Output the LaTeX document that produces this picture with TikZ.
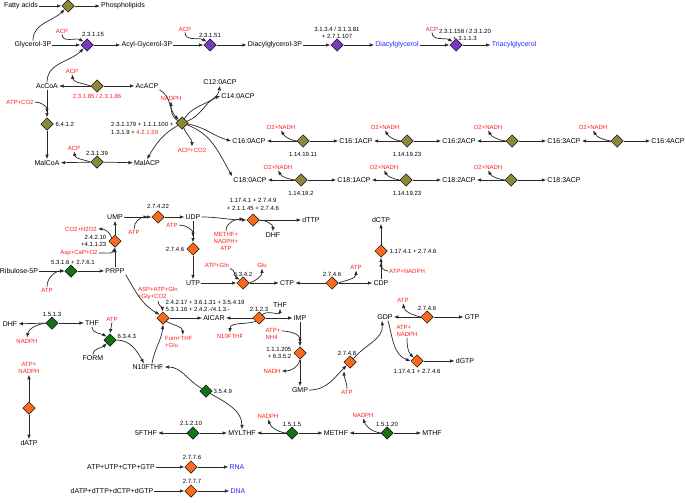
\documentclass[tikz,border=0pt]{standalone}
\usepackage{fontspec}
\setmainfont{Liberation Sans}
\usetikzlibrary{shapes.geometric, arrows.meta, positioning}
\definecolor{FAcol}{RGB}{140,136,58}
\definecolor{TAGcol}{RGB}{118,58,186}
\definecolor{NUCcol}{RGB}{247,108,28}
\definecolor{FOLcol}{RGB}{22,112,22}
\definecolor{Cofcol}{RGB}{255,28,28}
\definecolor{Endcol}{RGB}{40,40,255}
\definecolor{Linecol}{RGB}{40,40,40}

\begin{document}
\begin{tikzpicture}[
    x=1pt, y=1pt,
    met/.style={font=\fontsize{7}{8}\selectfont, inner sep=1pt},
    cof/.style={font=\fontsize{6}{7}\selectfont, text=Cofcol, inner sep=1pt, align=center},
    ec/.style={font=\fontsize{6}{7}\selectfont, inner sep=0.5pt, align=center},
    rxn/.style={diamond, draw=black, line width=0.5pt, minimum size=12.5pt, inner sep=0pt},
    fabox/.style={rxn, fill=FAcol},
    tagbox/.style={rxn, fill=TAGcol},
    nucbox/.style={rxn, fill=NUCcol},
    folbox/.style={rxn, fill=FOLcol},
    arr/.style={
        -{Latex[length=4.5pt, width=3.5pt]},
        line width=0.7pt,
        color=Linecol
    }
]

    \useasboundingbox (0,0) rectangle (685,-503);

    % ------------------- LIPIDI -------------------
    \node[met] (fatty) at (21,-6) {Fatty acids};
    \node[fabox] (rPL) at (68,-6) {};
    \node[met] (phos) at (123,-6) {Phospholipids};
    \draw[arr] (fatty) -- (rPL);
    \draw[arr] (rPL) -- (phos);

    \node[met] (g3p) at (33,-45) {Glycerol-3P};
    \node[tagbox] (r2315) at (87,-45) {};
    \node[ec] (l2315) at (93,-34) {2.3.1.15};
    \node[cof] (acpA) at (62,-31) {ACP};
    \node[met] (acylg) at (147,-45) {Acyl-Gycerol-3P};
    \draw[arr] (g3p.north) to[out=90, in=-135] (rPL.south west);
    \draw[arr] (g3p) -- (r2315);
    \draw[arr] (acpA.south) to[out=-90, in=150] (r2315.north west);
    \draw[arr] (r2315) -- (acylg);

    \node[tagbox] (r23151) at (210,-45) {};
    \node[ec] (l23151) at (210,-35) {2.3.1.51};
    \node[cof] (acpB) at (185,-29) {ACP};
    \node[met] (dag3p) at (275,-45) {Diacylglycerol-3P};
    \draw[arr] (acylg) -- (r23151);
    \draw[arr] (acpB.south) to[out=-90, in=150] (r23151.north west);
    \draw[arr] (r23151) -- (dag3p);

    \node[tagbox] (r3134) at (337,-45) {};
    \node[ec] (l3134) at (337,-33) {3.1.3.4 / 3.1.3.81\\+ 2.7.1.107};
    \node[met, text=Endcol] (dag) at (397,-45) {Diacylglycerol};
    \draw[arr] (dag3p) -- (r3134);
    \draw[arr] (r3134) -- (dag);

    \node[tagbox] (r23158) at (456,-45) {};
    \node[ec] (l23158) at (465,-35) {2.3.1.158 / 2.3.1.20\\+ 3.1.1.3};
    \node[cof] (acpC) at (432,-29) {ACP};
    \node[met, text=Endcol] (tag) at (514,-45) {Triacylglycerol};
    \draw[arr] (dag) -- (r23158);
    \draw[arr] (acpC.south) to[out=-90, in=150] (r23158.north west);
    \draw[arr] (r23158) -- (tag);

    % ------------------- ACIDI GRASSI -------------------
    \node[met] (accoa) at (47,-86) {AcCoA};
    \node[fabox] (r23185) at (97,-86) {};
    \node[cof] (l23185) at (97,-96) {2.3.1.85 / 2.3.1.86};
    \node[cof] (acpD) at (72,-71) {ACP};
    \node[met] (acacp) at (147,-86) {AcACP};
    \draw[arr] (r23185) -- (accoa);
    \draw[arr] (r23185) -- (acacp);
    \draw[arr] (r23185.west) to[out=160, in=-80] (acpD.south);
    \draw[arr] (accoa.north) to[out=90, in=-135] (r2315.south west);

    \node[fabox] (r6412) at (47,-124) {};
    \node[ec, anchor=west] (l6412) at (55,-124) {6.4.1.2};
    \node[cof] (atpco2) at (20,-102) {ATP+CO2};
    \coordinate (jAc) at (47,-113);
    \node[met] (malcoa) at (47,-163) {MalCoA};
    \draw[arr] (accoa) -- (r6412);
    \draw[arr] (atpco2.east) to[out=0, in=90] (jAc);
    \draw[arr] (r6412) -- (malcoa);

    \node[fabox] (r23139) at (97,-162) {};
    \node[ec] (l23139) at (97,-153) {2.3.1.39};
    \node[cof] (acpE) at (74,-148) {ACP};
    \node[met] (malacp) at (147,-163) {MalACP};
    \draw[arr] (r23139) -- (malcoa);
    \draw[arr] (r23139) -- (malacp);
    \draw[arr] (r23139.west) to[out=160, in=-80] (acpE.south);

    % FAS (nodo centrale)
    \node[fabox] (rFAS) at (182,-123) {};
    \node[ec, align=left, anchor=east, font=\fontsize{6}{8}\selectfont] (lFAS) at (174,-128)
        {2.3.1.179 + 1.1.1.100 +\\1.3.1.9 + \textcolor{Cofcol}{4.2.1.59}};
    \node[cof] (nadphA) at (171,-98) {NADPH};
    \node[cof] (acpco2) at (192,-150) {ACP+CO2};
    \node[met] (c12) at (220,-82) {C12:0ACP};
    \node[met] (c14) at (238,-96) {C14:0ACP};
    \draw[arr] (acacp.south east) to[out=-30, in=135] (rFAS.north west);
    \draw[arr] (rFAS) to[out=150, in=-90] (nadphA.south);
    \draw[arr] (rFAS) to[out=60, in=-100] (c12.south);
    \draw[arr] (rFAS) to[out=20, in=-160] (c14.west);
    \draw[arr] (rFAS) to[out=-70, in=90] (acpco2.north);
    \draw[arr] (rFAS) to[out=-150, in=60] (malacp.north);

    % --- catena C16 ---
    \node[met] (c160) at (249,-141) {C16:0ACP};
    \node[met] (c161) at (356,-141) {C16:1ACP};
    \node[met] (c162) at (459,-141) {C16:2ACP};
    \node[met] (c163) at (564,-141) {C16:3ACP};
    \node[met] (c164) at (668,-141) {C16:4ACP};
    \draw[arr] (rFAS) to[out=-10, in=165] (c160.west);

    \node[fabox] (d16a) at (303,-141) {};
    \node[ec] (l16a) at (303,-154) {1.14.19.11};
    \node[cof] (o16a) at (281,-127) {O2+NADH};
    \draw[arr] (d16a) -- (c160);
    \draw[arr] (d16a) -- (c161);
    \draw[arr] (d16a.west) to[out=170, in=-60] (o16a.south);

    \node[fabox] (d16b) at (407,-141) {};
    \node[ec] (l16b) at (407,-154) {1.14.19.23};
    \node[cof] (o16b) at (385,-127) {O2+NADH};
    \draw[arr] (d16b) -- (c161);
    \draw[arr] (d16b) -- (c162);
    \draw[arr] (d16b.west) to[out=170, in=-60] (o16b.south);

    \node[fabox] (d16c) at (512,-141) {};
    \node[cof] (o16c) at (488,-127) {O2+NADH};
    \draw[arr] (d16c) -- (c162);
    \draw[arr] (d16c) -- (c163);
    \draw[arr] (d16c.west) to[out=170, in=-60] (o16c.south);

    \node[fabox] (d16d) at (617,-141) {};
    \node[cof] (o16d) at (593,-127) {O2+NADH};
    \draw[arr] (d16d) -- (c163);
    \draw[arr] (d16d) -- (c164);
    \draw[arr] (d16d.west) to[out=170, in=-60] (o16d.south);

    % --- catena C18 ---
    \node[met] (c180) at (250,-180) {C18:0ACP};
    \node[met] (c181) at (354,-180) {C18:1ACP};
    \node[met] (c182) at (459,-180) {C18:2ACP};
    \node[met] (c183) at (564,-180) {C18:3ACP};
    \draw[arr] (rFAS) to[out=-20, in=120] (c180.north west);

    \node[fabox] (d18a) at (301,-180) {};
    \node[ec] (l18a) at (301,-193) {1.14.19.2};
    \node[cof] (o18a) at (278,-167) {O2+NADH};
    \draw[arr] (d18a) -- (c180);
    \draw[arr] (d18a) -- (c181);
    \draw[arr] (d18a.west) to[out=170, in=-60] (o18a.south);

    \node[fabox] (d18b) at (406,-180) {};
    \node[ec] (l18b) at (407,-193) {1.14.19.23};
    \node[cof] (o18b) at (384,-167) {O2+NADH};
    \draw[arr] (d18b) -- (c181);
    \draw[arr] (d18b) -- (c182);
    \draw[arr] (d18b.west) to[out=170, in=-60] (o18b.south);

    \node[fabox] (d18c) at (511,-180) {};
    \node[cof] (o18c) at (488,-167) {O2+NADH};
    \draw[arr] (d18c) -- (c182);
    \draw[arr] (d18c) -- (c183);
    \draw[arr] (d18c.west) to[out=170, in=-60] (o18c.south);

    % ------------------- PIRIMIDINE -------------------
    \node[met] (rib) at (19,-271) {Ribulose-5P};
    \node[folbox] (dPRPP) at (71,-271) {};
    \node[ec] (lPRPP) at (73,-262) {5.3.1.6 + 2.7.6.1};
    \node[cof] (atpA) at (47,-290) {ATP};
    \node[met] (prpp) at (115,-271) {PRPP};
    \draw[arr] (rib) -- (dPRPP);
    \draw[arr] (atpA.north) to[out=90, in=180] (dPRPP.west);
    \draw[arr] (dPRPP) -- (prpp);

    \node[nucbox] (dUMP) at (115,-241) {};
    \node[ec, anchor=east, align=right] (lUMP) at (107,-241) {2.4.2.10\\+4.1.1.23};
    \node[cof] (aspcap) at (79,-253) {Asp+CaP+O2};
    \node[cof] (co2h2o) at (81,-229) {CO2+H2O2};
    \node[met] (ump) at (115,-217) {UMP};
    \draw[arr] (prpp) -- (dUMP);
    \draw[arr] (aspcap.east) to[out=0, in=-110] (dUMP.south);
    \draw[arr] (dUMP.north west) to[out=110, in=0] (co2h2o.east);
    \draw[arr] (dUMP) -- (ump);

    \node[nucbox] (d2722) at (158,-217) {};
    \node[ec] (l2722) at (158,-206) {2.7.4.22};
    \node[cof] (atpB) at (134,-232) {ATP};
    \coordinate (jU) at (148,-217);
    \node[met] (udp) at (193,-217) {UDP};
    \draw[arr] (ump) -- (d2722);
    \draw[arr] (atpB.north) to[out=90, in=180] (jU);
    \draw[arr] (d2722) -- (udp);

    \node[nucbox] (dTTPr) at (253,-220) {};
    \node[ec, font=\fontsize{6}{8}\selectfont] (lTTP) at (253,-204) {1.17.4.1 + 2.7.4.9\\+ 2.1.1.45 + 2.7.4.6};
    \node[cof] (methf) at (226,-241) {METHF+\\NADPH+\\ATP};
    \coordinate (jT) at (244,-219);
    \node[met] (dttp) at (311,-220) {dTTP};
    \node[met] (dhfA) at (273,-235) {DHF};
    \draw[arr] (udp) to[out=0, in=180] (dTTPr);
    \draw[arr] (methf.north) to[out=90, in=180] (jT);
    \draw[arr] (dTTPr) -- (dttp);
    \draw[arr] (dTTPr.east) to[out=0, in=90] (dhfA.north);

    \node[nucbox] (d2746a) at (193,-249) {};
    \node[ec, anchor=east] (l2746a) at (185,-249) {2.7.4.6};
    \node[cof] (atpC) at (172,-225) {ATP};
    \coordinate (jUT) at (193,-237);
    \node[met] (utp) at (193,-283) {UTP};
    \draw[arr] (udp) -- (d2746a);
    \draw[arr] (atpC.east) to[out=0, in=90] (jUT);
    \draw[arr] (d2746a) -- (utp);

    \node[nucbox] (d6342) at (243,-283) {};
    \node[ec] (l6342) at (243,-274) {6.3.4.2};
    \node[cof] (atpgln) at (217,-265) {ATP+Gln};
    \node[cof] (gluA) at (262,-265) {Glu};
    \node[met] (ctp) at (287,-283) {CTP};
    \draw[arr] (utp) -- (d6342);
    \draw[arr] (atpgln.south east) to[out=-20, in=150] (d6342.north west);
    \draw[arr] (d6342.east) to[out=20, in=-90] (gluA.south);
    \draw[arr] (d6342) -- (ctp);

    \node[nucbox] (d2746b) at (332,-283) {};
    \node[ec] (l2746b) at (332,-274) {2.7.4.6};
    \node[cof] (atpD) at (356,-267) {ATP};
    \node[met] (cdp) at (381,-283) {CDP};
    \draw[arr] (d2746b) -- (ctp);
    \draw[arr] (d2746b) -- (cdp);
    \draw[arr] (d2746b.east) to[out=20, in=-90] (atpD.south);

    \node[nucbox] (d1174a) at (381,-251) {};
    \node[ec, anchor=west] (l1174a) at (389,-251) {1.17.4.1 + 2.7.4.6};
    \node[cof] (atpnA) at (407,-271) {ATP+NADPH};
    \coordinate (jD) at (381,-262);
    \node[met] (dctp) at (381,-220) {dCTP};
    \draw[arr] (cdp) -- (d1174a);
    \draw[arr] (atpnA.west) to[out=180, in=-90] (jD);
    \draw[arr] (d1174a) -- (dctp);

    % ------------------- PURINE -------------------
    \node[nucbox] (dAIC) at (163,-318) {};
    \node[ec, align=left, anchor=south west] (lAIC) at (165,-312)
        {2.4.2.17 + 3.6.1.31 + 3.5.4.19\\5.3.1.16 + 2.4.2.-/4.1.3.-};
    \node[cof, align=left, anchor=north west] (aspatp) at (137,-286) {ASP+ATP+Gln\\+Gly+CO2};
    \node[cof, align=left, anchor=north west] (fumthf) at (164,-335) {Fum+THF\\+Glu};
    \node[met] (aicar) at (214,-318) {AICAR};
    \draw[arr] (prpp.south east) to[out=-60, in=150] (dAIC.north west);
    \draw[arr] (aspatp.south) to[out=-90, in=100] (dAIC.north);
    \draw[arr] (dAIC.south east) to[out=-30, in=90] ([xshift=4pt]fumthf.north);
    \draw[arr] (dAIC) -- (aicar);

    \node[nucbox] (d2123) at (259,-318) {};
    \node[ec] (l2123) at (259,-309) {2.1.2.3};
    \node[met] (thfB) at (280,-305) {THF};
    \node[cof] (n10red) at (230,-336) {N10FTHF};
    \node[met] (imp) at (300,-318) {IMP};
    \draw[arr] (d2123) -- (aicar);
    \draw[arr] (d2123) -- (imp);
    \draw[arr] (d2123.north east) to[out=45, in=-90] (thfB.south);
    \draw[arr] (d2123.south west) to[out=200, in=90] (n10red.north);

    \node[nucbox] (d1205) at (300,-353) {};
    \node[ec, anchor=east, align=right] (l1205) at (292,-353) {1.1.1.205\\+ 6.3.5.2};
    \node[cof, align=left] (atpnh4) at (273,-334) {ATP+\\NH4};
    \coordinate (jI) at (300,-343);
    \node[cof] (nadhA) at (272,-371) {NADH};
    \node[met] (gmp) at (300,-390) {GMP};
    \draw[arr] (imp) -- (d1205);
    \draw[arr] ([yshift=3pt]atpnh4.east) to[out=0, in=90] (jI);
    \draw[arr] (d1205.south) to[out=-100, in=0] (nadhA.east);
    \draw[arr] (d1205) -- (gmp);

    \node[nucbox] (d2748) at (350,-362) {};
    \node[ec] (l2748) at (347,-353) {2.7.4.8};
    \node[cof] (atpE) at (347,-392) {ATP};
    \coordinate (jG) at (344,-371);
    \node[met] (gdp) at (385,-317) {GDP};
    \draw[arr] (gmp.east) to[out=0, in=-135] (d2748.south west);
    \draw[arr] (atpE.north) to[out=90, in=-90] (jG);
    \draw[arr] (d2748.north east) to[out=50, in=-85] ([xshift=-3pt]gdp.south);

    \node[nucbox] (d2746c) at (427,-317) {};
    \node[ec] (l2746c) at (427,-308) {2.7.4.6};
    \node[cof] (atpF) at (403,-300) {ATP};
    \node[met] (gtp) at (472,-317) {GTP};
    \draw[arr] (d2746c) -- (gdp);
    \draw[arr] (d2746c) -- (gtp);
    \draw[arr] (d2746c.west) to[out=165, in=-80] (atpF.south);

    \node[nucbox] (d1174b) at (417,-361) {};
    \node[ec] (l1174b) at (417,-371) {1.17.4.1 + 2.7.4.6};
    \node[cof, align=left] (atpnB) at (407,-331) {ATP+\\NADPH};
    \node[met] (dgtp) at (465,-361) {dGTP};
    \draw[arr] ([xshift=3pt]gdp.south) to[out=-75, in=160] (d1174b.west);
    \draw[arr] (atpnB.south) to[out=-90, in=135] (d1174b.north west);
    \draw[arr] (d1174b) -- (dgtp);

    % ------------------- FOLATI -------------------
    \node[folbox] (d1513) at (52,-323) {};
    \node[ec] (l1513) at (52,-314) {1.5.1.3};
    \node[met] (dhfB) at (10,-324) {DHF};
    \node[met] (thfA) at (92,-323) {THF};
    \node[cof] (nadphB) at (27,-341) {NADPH};
    \draw[arr] (d1513) -- (dhfB);
    \draw[arr] (d1513) -- (thfA);
    \draw[arr] (d1513.west) to[out=190, in=80] (nadphB.north);

    \node[folbox] (d6343) at (110,-340) {};
    \node[ec, anchor=west] (l6343) at (117,-336) {6.3.4.3};
    \node[cof] (atpG) at (112,-319) {ATP};
    \node[met] (form) at (93,-358) {FORM};
    \node[met] (n10fthf) at (148,-367) {N10FTHF};
    \draw[arr] (thfA.south) to[out=-90, in=150] (d6343.north west);
    \draw[arr] (atpG.south) -- (d6343.north);
    \draw[arr] (form.north) to[out=80, in=-135] (d6343.south west);
    \draw[arr] (d6343.east) to[out=0, in=120] ([xshift=-4pt]n10fthf.north);
    \draw[arr] ([xshift=4pt]n10fthf.north) to[out=80, in=-95] (dAIC.south);

    \node[folbox] (d3549) at (206,-391) {};
    \node[ec, anchor=west] (l3549) at (213,-391) {3.5.4.9};
    \node[met] (myl) at (242,-433) {MYLTHF};
    \draw[arr] (d3549) to[out=150, in=0] (n10fthf.east);
    \draw[arr] (d3549) to[out=-30, in=90] (myl.north);

    \node[folbox] (d21210) at (193,-433) {};
    \node[ec] (l21210) at (191,-423) {2.1.2.10};
    \node[met] (fthf5) at (146,-433) {5FTHF};
    \draw[arr] (d21210) -- (fthf5);
    \draw[arr] (d21210) -- (myl);

    \node[folbox] (d1515) at (292,-433) {};
    \node[ec] (l1515) at (292,-424) {1.5.1.5};
    \node[cof] (nadphC) at (268,-416) {NADPH};
    \node[met] (methfB) at (336,-433) {METHF};
    \draw[arr] (d1515) -- (myl);
    \draw[arr] (d1515) -- (methfB);
    \draw[arr] (d1515.west) to[out=170, in=-70] (nadphC.south);

    \node[folbox] (d15120) at (387,-433) {};
    \node[ec] (l15120) at (387,-424) {1.5.1.20};
    \node[cof] (nadphD) at (363,-415) {NADPH};
    \node[met] (mthf) at (432,-433) {MTHF};
    \draw[arr] (d15120) -- (methfB);
    \draw[arr] (d15120) -- (mthf);
    \draw[arr] (d15120.west) to[out=170, in=-70] (nadphD.south);

    % dATP
    \node[nucbox] (ddatp) at (29,-408) {};
    \node[cof] (atpnC) at (29,-368) {ATP+\\NADPH};
    \node[met] (datp) at (29,-443) {dATP};
    \draw[arr] (ddatp) -- (atpnC);
    \draw[arr] (ddatp) -- (datp);

    % ------------------- RNA / DNA -------------------
    \node[met] (ntp) at (121,-467) {ATP+UTP+CTP+GTP};
    \node[nucbox] (r2776) at (191,-467) {};
    \node[ec] (l2776) at (192,-457) {2.7.7.6};
    \node[met, text=Endcol] (rna) at (237,-467) {RNA};
    \draw[arr] (ntp) -- (r2776);
    \draw[arr] (r2776) -- (rna);

    \node[met] (dntp) at (112,-491) {dATP+dTTP+dCTP+dGTP};
    \node[nucbox] (r2777) at (191,-491) {};
    \node[ec] (l2777) at (192,-481) {2.7.7.7};
    \node[met, text=Endcol] (dna) at (238,-491) {DNA};
    \draw[arr] (dntp) -- (r2777);
    \draw[arr] (r2777) -- (dna);
\end{tikzpicture}
\end{document}
